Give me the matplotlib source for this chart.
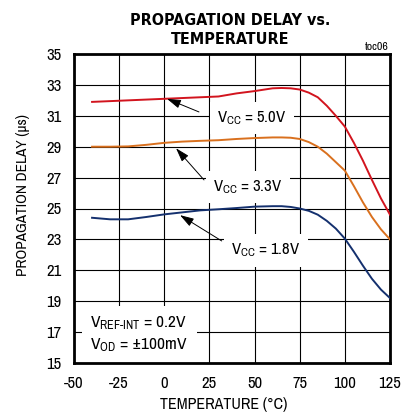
import matplotlib
matplotlib.use('Agg')
import matplotlib.pyplot as plt

# temperature (degC) and propagation delay (us)
temp = [-40, -30, -20, -10, 0, 10, 20, 30, 40, 50, 60, 65, 70, 75, 80, 85,
        90, 95, 100, 105, 110, 115, 120, 125]
delay_5v0 = [31.9, 31.95, 32.0, 32.05, 32.1, 32.15, 32.2, 32.25, 32.45, 32.6,
             32.78, 32.8, 32.78, 32.7, 32.5, 32.2, 31.65, 31.0, 30.3, 29.25,
             28.1, 26.85, 25.65, 24.6]
delay_3v3 = [29.0, 29.0, 29.02, 29.12, 29.25, 29.33, 29.38, 29.42, 29.5, 29.56,
             29.6, 29.6, 29.58, 29.5, 29.3, 29.0, 28.55, 28.0, 27.45, 26.45,
             25.4, 24.45, 23.65, 23.0]
delay_1v8 = [24.4, 24.3, 24.3, 24.45, 24.62, 24.75, 24.88, 24.95, 25.03, 25.12,
             25.15, 25.15, 25.1, 25.0, 24.85, 24.6, 24.2, 23.7, 23.05, 22.2,
             21.3, 20.45, 19.75, 19.2]

x_ticks = [-50, -25, 0, 25, 50, 75, 100, 125]
y_ticks = [15, 17, 19, 21, 23, 25, 27, 29, 31, 33, 35]

plt.rcParams['font.family'] = ['Archivo Narrow', 'DejaVu Sans']
plt.rcParams['font.stretch'] = 'condensed'
plt.rcParams['mathtext.fontset'] = 'custom'
plt.rcParams['mathtext.rm'] = 'Archivo Narrow'
plt.rcParams['axes.unicode_minus'] = False

fig = plt.figure(figsize=(4.03, 4.17), dpi=100, facecolor='white')
ax = fig.add_axes([74 / 403, 1 - 363 / 417, 316 / 403, 309 / 417])

ax.plot(temp, delay_5v0, color='#d2141e', lw=1.4, zorder=3)
ax.plot(temp, delay_3v3, color='#d9701e', lw=1.4, zorder=3)
ax.plot(temp, delay_1v8, color='#14306e', lw=1.4, zorder=3)

ax.set_xlim(-50, 125)
ax.set_ylim(15, 35)
ax.set_xticks(x_ticks)
ax.set_yticks(y_ticks)
ax.grid(True, color='black', lw=0.8)
ax.set_axisbelow(True)
ax.tick_params(length=0, labelsize=12, pad=9)
for s in ax.spines.values():
    s.set_linewidth(2)

# curve labels with arrows
box = dict(facecolor='white', edgecolor='none', boxstyle='square,pad=0.45')
arrow = dict(arrowstyle='-|>,head_length=0.7,head_width=0.22', color='black',
             lw=0.7, shrinkA=0, shrinkB=0, mutation_scale=12)

labels = [(r'$\mathregular{V_{CC}}$ = 5.0V', (48.6, 30.85), (19.2, 31.25), (1.5, 32.1)),
          (r'$\mathregular{V_{CC}}$ = 3.3V', (46.3, 26.4), (22.0, 26.85), (6.5, 28.9)),
          (r'$\mathregular{V_{CC}}$ = 1.8V', (56.1, 22.3), (31.8, 22.9), (8.7, 24.57))]
for txt, pos, tail, tip in labels:
    ax.annotate('', xy=tip, xytext=tail, arrowprops=arrow, zorder=4)
    ax.text(pos[0], pos[1], txt, fontsize=12, ha='center', va='center',
            bbox=box, zorder=2)

ax.text(-41, 16.85, 'V$\\mathregular{_{REF\\text{-}INT}}$ = 0.2V\nV$\\mathregular{_{OD}}$ = \u00b1100mV',
        fontsize=12.5, ha='left', va='center', linespacing=1.3,
        bbox=dict(facecolor='white', edgecolor='none', boxstyle='square,pad=0.5'),
        zorder=2)

fig.text(230 / 403, 1 - 30 / 417, 'PROPAGATION DELAY vs.\nTEMPERATURE',
         family='DejaVu Sans', stretch='condensed', fontsize=11.5, fontweight='bold',
         ha='center', va='center', linespacing=1.3)
fig.text(389 / 403, 1 - 47 / 417, 'toc06', fontsize=8.5, ha='right', va='center')
fig.text(224 / 403, 1 - 405 / 417, 'TEMPERATURE (\u00b0C)', fontsize=11.5,
         ha='center', va='center')
fig.text(23 / 403, 1 - 195 / 417, 'PROPAGATION DELAY (\u00b5s)', fontsize=11,
         ha='center', va='center', rotation=90)

fig.savefig('out.png', dpi=100)
